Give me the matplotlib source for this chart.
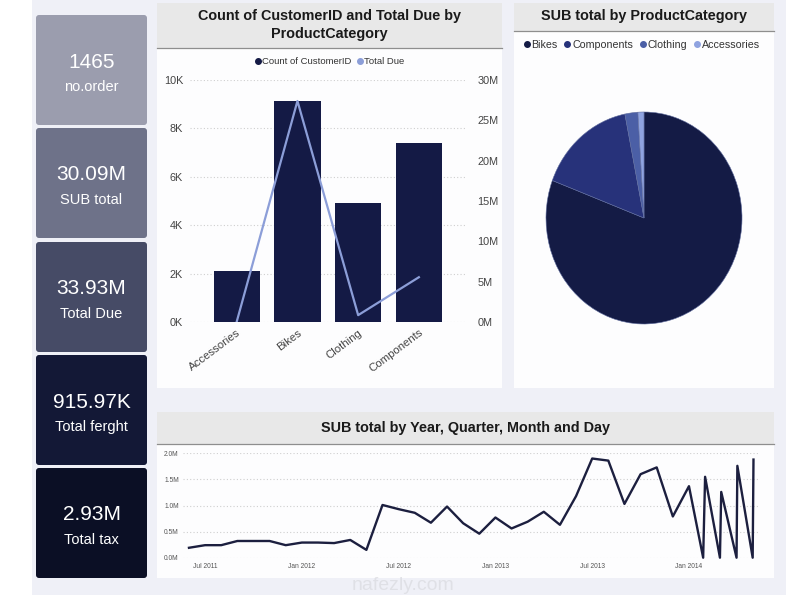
import numpy as np
import matplotlib
matplotlib.use("Agg")
import matplotlib.pyplot as plt
from matplotlib.patches import Rectangle, FancyBboxPatch
from matplotlib.lines import Line2D

plt.rcParams['font.family'] = ['Liberation Sans', 'DejaVu Sans']

# ---------------- data ----------------
kpi_values = ["1465", "30.09M", "33.93M", "915.97K", "2.93M"]
kpi_labels = ["no.order", "SUB total", "Total Due", "Total ferght", "Total tax"]

bar_categories = ["Accessories", "Bikes", "Clothing", "Components"]
customer_counts = [2100, 9130, 4900, 7410]
total_due = [0.05e6, 27.4e6, 0.85e6, 5.55e6]

pie_categories = ["Bikes", "Components", "Clothing", "Accessories"]
pie_values = [24.30e6, 4.85e6, 0.64e6, 0.30e6]

line_x = [0, 1, 2, 3, 4, 5, 6, 7, 8, 9, 10, 11, 12, 13, 14, 15, 16, 17, 18, 19,
          20, 21, 22, 23, 24, 25, 26, 27, 28, 29, 30, 31,
          31.88, 32, 32.92, 33, 33.95, 34, 34.95, 35]
line_y = [0.19, 0.24, 0.24, 0.32, 0.32, 0.32, 0.24, 0.29, 0.29, 0.28, 0.34, 0.15,
          1.01, 0.93, 0.86, 0.67, 0.98, 0.66, 0.46, 0.77, 0.56, 0.69, 0.88, 0.63,
          1.18, 1.90, 1.86, 1.03, 1.60, 1.73, 0.79, 1.37,
          0.0, 1.55, 0.0, 1.26, 0.0, 1.76, 0.0, 1.88]
line_tick_pos = [1, 7, 13, 19, 25, 31]
line_tick_labels = ["Jul 2011", "Jan 2012", "Jul 2012", "Jan 2013", "Jul 2013", "Jan 2014"]

# ---------------- figure ----------------
W, H = 802, 600
fig = plt.figure(figsize=(W / 100, H / 100), dpi=100, facecolor='white')

bg = fig.add_axes([0, 0, 1, 1], zorder=-5)
bg.set_xlim(0, W)
bg.set_ylim(H, 0)
bg.axis('off')

def add_axes(l, t, r, b, **kw):
    return fig.add_axes([l / W, 1 - b / H, (r - l) / W, (b - t) / H], **kw)

# canvas background
bg.add_patch(Rectangle((32, 0), 754, 595, color='#EFF0F7', lw=0))

# KPI cards
card_colors = ['#9B9DAE', '#6E7289', '#464B66', '#131836', '#0B0F25']
card_tops = [15, 128, 242, 355, 468]
for top, col, val, lab in zip(card_tops, card_colors, kpi_values, kpi_labels):
    bg.add_patch(FancyBboxPatch((36, top), 111, 110, boxstyle="round,pad=0,rounding_size=3",
                                fc=col, ec='none'))
    cy = top + 55
    bg.text(91.5, cy - 8, val, ha='center', va='center', color='white', fontsize=15)
    bg.text(91.5, cy + 17, lab, ha='center', va='center', color='white', fontsize=10.5)

# panels
def panel(l, t, r, b, band_b, title_lines, title_y):
    bg.add_patch(Rectangle((l, t), r - l, b - t, fc='#FDFDFE', ec='none'))
    bg.add_patch(Rectangle((l, t), r - l, band_b - t, fc='#E8E8E8', ec='none'))
    bg.plot([l, r], [band_b, band_b], color='#8E8E8E', lw=0.9)
    for ty, tl in zip(title_y, title_lines):
        bg.text((l + r) / 2, ty, tl, ha='center', va='center', fontsize=10.4,
                fontweight='bold', color='#1A1A1A')

panel(157, 3, 502, 388, 48, ["Count of CustomerID and Total Due by", "ProductCategory"], [16, 34])
panel(514, 3, 774, 388, 31, ["SUB total by ProductCategory"], [16])
panel(157, 412, 774, 578, 444, ["SUB total by Year, Quarter, Month and Day"], [428])

# watermark
bg.text(403, 586, "nafezly.com", ha='center', va='center', fontsize=14,
        color='#DCDDE2', alpha=0.8)

# ---------------- bar + line combo ----------------
bar_color = '#141A45'
due_color = '#8C9ED8'
ax = add_axes(190, 80, 465, 322)
ax.set_facecolor('none')
xpos = np.arange(len(bar_categories))
ax.bar(xpos, customer_counts, width=0.76, color=bar_color, zorder=2)
ax.set_xlim(-0.77, 3.76)
ax.set_ylim(0, 10000)
yt = np.arange(0, 10001, 2000)
ax.set_yticks(yt)
ax.set_yticklabels([f"{int(v / 1000)}K" for v in yt])
ax.set_xticks(xpos)
ax.set_xticklabels(bar_categories, rotation=37, ha='right', rotation_mode='anchor')
ax.yaxis.grid(True, linestyle=(0, (1, 2)), color='#CFCFCF', lw=0.8, zorder=0)
ax.set_axisbelow(True)
for s in ax.spines.values():
    s.set_visible(False)
ax.tick_params(axis='both', length=0, labelsize=7.8, colors='#444444')
ax.tick_params(axis='x', labelsize=8.2, pad=4)
ax.tick_params(axis='y', pad=5)

ax2 = ax.twinx()
ax2.plot(xpos, total_due, color=due_color, lw=1.6, zorder=3)
ax2.set_ylim(0, 30e6)
yt2 = np.arange(0, 30e6 + 1, 5e6)
ax2.set_yticks(yt2)
ax2.set_yticklabels([f"{int(v / 1e6)}M" for v in yt2])
for s in ax2.spines.values():
    s.set_visible(False)
ax2.tick_params(axis='y', length=0, labelsize=7.8, colors='#444444', pad=9)

h1 = Line2D([], [], marker='o', ls='', color=bar_color, markersize=4)
h2 = Line2D([], [], marker='o', ls='', color=due_color, markersize=4)
fig.legend([h1, h2], ["Count of CustomerID", "Total Due"], loc='center',
           bbox_to_anchor=(329 / W, 1 - 62 / H), ncol=2, frameon=False,
           fontsize=6.8, handletextpad=0.05, columnspacing=0.5, handlelength=0.8,
           labelcolor='#333333')

# ---------------- pie ----------------
pie_colors = ['#141B45', '#27327A', '#4B5FA6', '#8FA3E0']
axp = add_axes(546, 112, 742, 324)
axp.pie(pie_values, colors=pie_colors, startangle=90, counterclock=False,
        wedgeprops=dict(linewidth=0.4, edgecolor='#5F6C9E'))
axp.set_aspect('auto')
axp.set_xlim(-1, 1)
axp.set_ylim(-1, 1)

hp = [Line2D([], [], marker='o', ls='', color=c, markersize=4) for c in pie_colors]
fig.legend(hp, pie_categories, loc='center', bbox_to_anchor=(641 / W, 1 - 45 / H),
           ncol=4, frameon=False, fontsize=7.7, handletextpad=0.05, columnspacing=0.5,
           handlelength=0.8, labelcolor='#333333')

# ---------------- line ----------------
axl = add_axes(183, 453.3, 758, 557.7)
axl.set_facecolor('none')
axl.plot(line_x, line_y, color='#1C1F3F', lw=1.7, clip_on=False, zorder=3)
axl.set_xlim(-0.37, 35.28)
axl.set_ylim(0, 2.0)
ylt = np.arange(0, 2.01, 0.5)
axl.set_yticks(ylt)
axl.set_yticklabels([f"{v:.1f}M" for v in ylt])
axl.set_xticks(line_tick_pos)
axl.set_xticklabels(line_tick_labels)
axl.yaxis.grid(True, linestyle=(0, (1, 2)), color='#CFCFCF', lw=0.8)
for s in axl.spines.values():
    s.set_visible(False)
axl.tick_params(axis='both', length=0, labelsize=4.8, colors='#555555')
axl.tick_params(axis='y', pad=3)
axl.tick_params(axis='x', pad=4)

fig.savefig("out.png", dpi=100, facecolor='white')
